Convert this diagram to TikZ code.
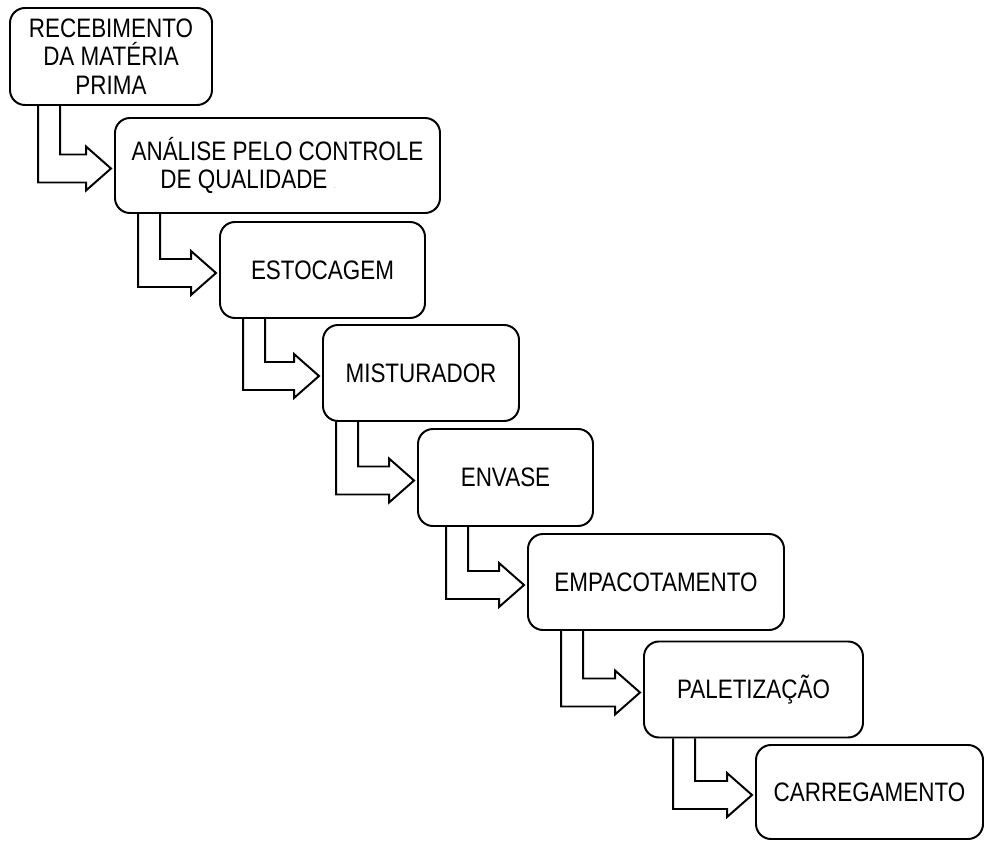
\documentclass[tikz,border=0pt]{standalone}
\usepackage{fontspec}
\setmainfont[FakeStretch=0.84]{Liberation Sans}
\usetikzlibrary{calc}
\newcommand{\flowarrow}[3]{%
\draw[flowline] ($(#1.south west)+(#3,0)$) |- ($(#2.west)+(-0.7,-0.425)$) -- ($(#2.west)+(-0.7,-0.625)$) -- ($(#2.west)+(-0.075,-0.075)$) -- ($(#2.west)+(-0.7,0.475)$) -- ($(#2.west)+(-0.7,0.275)$) -| ($(#1.south west)+(#3+0.55,0)$);}
\begin{document}
\begin{tikzpicture}[procbox/.style={draw, rounded corners=0.375cm, line width=1.4pt, align=center, inner sep=2pt, font=\fontsize{19}{20.5}\selectfont}, flowline/.style={line width=1.4pt, line join=miter}]
\useasboundingbox (0,0) rectangle (24.625,-21.025);
\node[procbox, minimum width=5.05cm, minimum height=2.425cm] (receb) at (2.775,-1.4125) {RECEBIMENTO\\DA MATÉRIA\\PRIMA};
\node[procbox, minimum width=8.125cm, minimum height=2.375cm, align=left] (analise) at (6.9375,-4.1375) {ANÁLISE PELO CONTROLE\\\hspace*{0.72cm}DE QUALIDADE {\color{black!25}\scriptsize .}};
\node[procbox, minimum width=5.125cm, minimum height=2.4cm] (estoc) at (8.0625,-6.75) {ESTOCAGEM};
\node[procbox, minimum width=4.9cm, minimum height=2.4cm] (mistur) at (10.525,-9.325) {MISTURADOR};
\node[procbox, minimum width=4.375cm, minimum height=2.425cm] (envase) at (12.6375,-11.9375) {ENVASE};
\node[procbox, minimum width=6.4cm, minimum height=2.4cm] (empac) at (16.4,-14.55) {EMPACOTAMENTO};
\node[procbox, minimum width=5.475cm, minimum height=2.4cm] (palet) at (18.8375,-17.2375) {PALETIZAÇÃO};
\node[procbox, minimum width=5.675cm, minimum height=2.35cm] (carreg) at (21.7375,-19.8) {CARREGAMENTO};
\flowarrow{receb}{analise}{0.725}
\flowarrow{analise}{estoc}{0.6}
\flowarrow{estoc}{mistur}{0.6}
\flowarrow{mistur}{envase}{0.35}
\flowarrow{envase}{empac}{0.725}
\flowarrow{empac}{palet}{0.85}
\flowarrow{palet}{carreg}{0.75}
\end{tikzpicture}
\end{document}
